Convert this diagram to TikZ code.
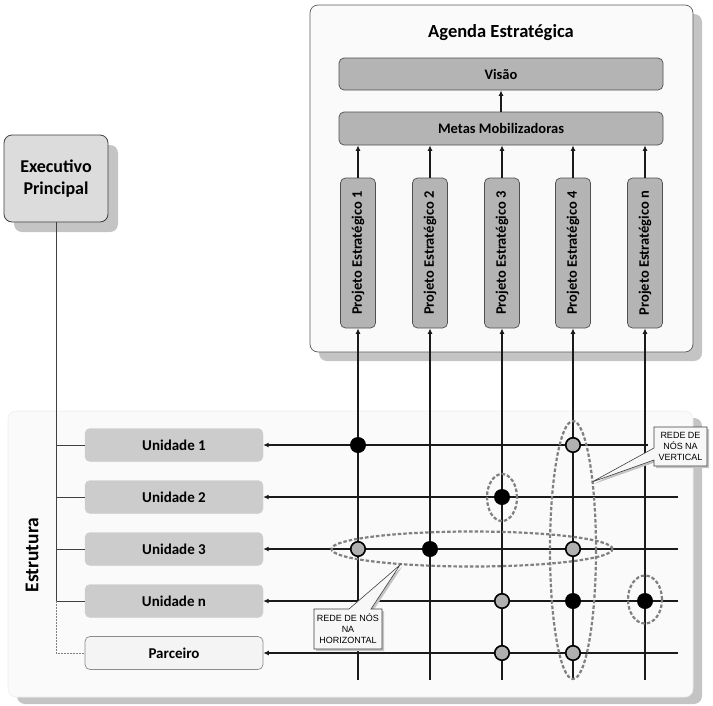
\documentclass[tikz,border=0pt]{standalone}
\usepackage{fontspec}
\setmainfont{Carlito}
\newfontfamily\arialf{Liberation Sans}
\usetikzlibrary{arrows.meta,shapes.callouts,shapes.geometric,shadows}
\definecolor{panelfill}{HTML}{FAFAFA}
\definecolor{panelborder}{HTML}{5A5A5A}
\definecolor{structborder}{HTML}{EEEEEE}
\definecolor{shadowgray}{HTML}{C4C4C4}
\definecolor{barfill}{HTML}{B4B4B4}
\definecolor{barborder}{HTML}{505050}
\definecolor{unitfill}{HTML}{CCCCCC}
\definecolor{parcfill}{HTML}{F4F4F4}
\definecolor{parcborder}{HTML}{8C8C8C}
\definecolor{execfill}{HTML}{DCDCDC}
\definecolor{execborder}{HTML}{404040}
\definecolor{ringgray}{HTML}{808080}
\definecolor{dotgray}{HTML}{B0B0B0}
\definecolor{calloutfill}{HTML}{F7F7F7}
\definecolor{gridcol}{HTML}{1A1A1A}
\begin{document}
\begin{tikzpicture}[x=1pt,y=-1pt,
  panelbox/.style={rectangle, rounded corners=8pt, fill=panelfill, draw=panelborder, line width=0.7pt, inner sep=0pt,
    drop shadow={shadow xshift=9pt, shadow yshift=-9pt, fill=shadowgray, opacity=1}},
  structbox/.style={rectangle, rounded corners=8pt, fill=panelfill, draw=structborder, line width=0.6pt, inner sep=0pt,
    drop shadow={shadow xshift=9pt, shadow yshift=-7pt, fill=shadowgray, opacity=1}},
  execbox/.style={rectangle, rounded corners=8pt, fill=execfill, draw=execborder, line width=0.8pt, inner sep=0pt, align=center,
    font=\bfseries\fontsize{18}{22}\selectfont,
    drop shadow={shadow xshift=10pt, shadow yshift=-10pt, fill=shadowgray, opacity=1}},
  barbox/.style={rectangle, rounded corners=5pt, fill=barfill, draw=barborder, line width=0.7pt, inner sep=0pt,
    font=\bfseries\fontsize{14.5}{17}\selectfont},
  projbox/.style={barbox, rotate=90, minimum width=150pt, minimum height=35pt},
  unitbox/.style={rectangle, rounded corners=5pt, fill=unitfill, draw=unitfill, inner sep=0pt,
    minimum width=178pt, minimum height=33pt, font=\bfseries\fontsize{15}{18}\selectfont},
  parcbox/.style={unitbox, fill=parcfill, draw=parcborder, line width=0.7pt},
  gridline/.style={line width=1.8pt, gridcol},
  gridarrow/.style={gridline, -{Latex[length=5.5pt,width=5pt]}},
  branch/.style={line width=1pt, execborder},
  pbranch/.style={line width=1pt, ringgray, dash pattern=on 2pt off 1pt},
  bdot/.style={circle, fill=black, minimum size=16pt, inner sep=0pt},
  gdot/.style={circle, fill=dotgray, draw=black, line width=1.6pt, minimum size=14.5pt, inner sep=0pt},
  ring/.style={ellipse, draw=ringgray, line width=2.2pt, dash pattern=on 3.5pt off 2pt, inner sep=0pt},
  callbox/.style={rectangle callout, fill=calloutfill, draw=execborder, line width=0.6pt, inner sep=0pt, align=center,
    font=\arialf\fontsize{9}{11}\selectfont,
    drop shadow={shadow xshift=2pt, shadow yshift=-2pt, fill=shadowgray, opacity=1}}
]
\useasboundingbox (0,0) rectangle (713,705);

% panels
\node[panelbox, minimum width=383pt, minimum height=347pt] (agenda) at (501.5,178.5) {};
\node[structbox, minimum width=685pt, minimum height=286pt] (estr) at (350.5,554) {};

% agenda content
\node[font=\bfseries\fontsize{18.5}{22}\selectfont] (title) at (501,33) {Agenda Estratégica};
\node[barbox, minimum width=324pt, minimum height=32pt] (visao) at (501,74) {Visão};
\node[barbox, minimum width=324pt, minimum height=33pt] (metas) at (501,128.5) {Metas Mobilizadoras};
\node[projbox] (p1) at (358,253) {Projeto Estratégico 1};
\node[projbox] (p2) at (430,253) {Projeto Estratégico 2};
\node[projbox] (p3) at (502,253) {Projeto Estratégico 3};
\node[projbox] (p4) at (573,253) {Projeto Estratégico 4};
\node[projbox] (p5) at (645,253) {Projeto Estratégico n};

\draw[gridarrow] (metas.north) -- (visao.south);
\foreach \p in {p1,p2,p3,p4,p5}{
  \draw[gridarrow] (\p.east) -- (\p.east |- metas.south);
}

% executive
\node[execbox, minimum width=104pt, minimum height=87pt] (exec) at (56,178.5) {Executivo\\Principal};

% structure
\node[rotate=90, font=\bfseries\fontsize{19.5}{22}\selectfont] (estrlabel) at (32,555) {Estrutura};
\node[unitbox] (u1) at (174,445) {Unidade 1};
\node[unitbox] (u2) at (174,497) {Unidade 2};
\node[unitbox] (u3) at (174,549) {Unidade 3};
\node[unitbox] (un) at (174,601) {Unidade n};
\node[parcbox] (parc) at (174,653) {Parceiro};

\draw[branch] (exec.south) -- (exec.south |- un.west);
\foreach \u in {u1,u2,u3,un}{
  \draw[branch] (exec.south |- \u.west) -- (\u.west);
}
\draw[pbranch] (exec.south |- un.west) |- (parc.west);

% grid coordinates
\coordinate (bot) at (0,680);
\coordinate (rend) at (678,0);
\coordinate (rend1) at (648,0);

% vertical lines
\foreach \p in {p1,p2,p3,p4,p5}{
  \draw[gridarrow] (\p.west |- bot) -- (\p.west);
}
% horizontal lines
\draw[gridarrow] (u1.east -| rend1) -- (u1.east);
\foreach \u in {u2,u3,un,parc}{
  \draw[gridarrow] (\u.east -| rend) -- (\u.east);
}

% rings
\node[ring, minimum width=281pt, minimum height=35pt] (hnet) at (472,549) {};
\node[ring, minimum width=46pt, minimum height=258pt] (vnet) at (573,550) {};
\node[ring, minimum width=30pt, minimum height=47pt] (ring2) at (502,497.5) {};
\node[ring, minimum width=34pt, minimum height=48pt] (ringn) at (645,599.5) {};

% dots
\node[bdot] (d11) at (p1.west |- u1) {};
\node[gdot] (d14) at (p4.west |- u1) {};
\node[bdot] (d23) at (p3.west |- u2) {};
\node[gdot] (d31) at (p1.west |- u3) {};
\node[bdot] (d32) at (p2.west |- u3) {};
\node[gdot] (d34) at (p4.west |- u3) {};
\node[gdot] (dn3) at (p3.west |- un) {};
\node[bdot] (dn4) at (p4.west |- un) {};
\node[bdot] (dn5) at (p5.west |- un) {};
\node[gdot] (dp3) at (p3.west |- parc) {};
\node[gdot] (dp4) at (p4.west |- parc) {};

% callouts
\node[callbox, callout absolute pointer={(400,565)}, callout pointer width=22pt,
      minimum width=68pt, minimum height=40pt] (hcall) at (348,629) {REDE DE NÓS\\NA\\HORIZONTAL};
\node[callbox, callout absolute pointer={(592,482)}, callout pointer width=12pt,
      minimum width=53pt, minimum height=39pt] (vcall) at (680.5,446.5) {REDE DE\\NÓS NA\\VERTICAL};
\end{tikzpicture}
\end{document}
